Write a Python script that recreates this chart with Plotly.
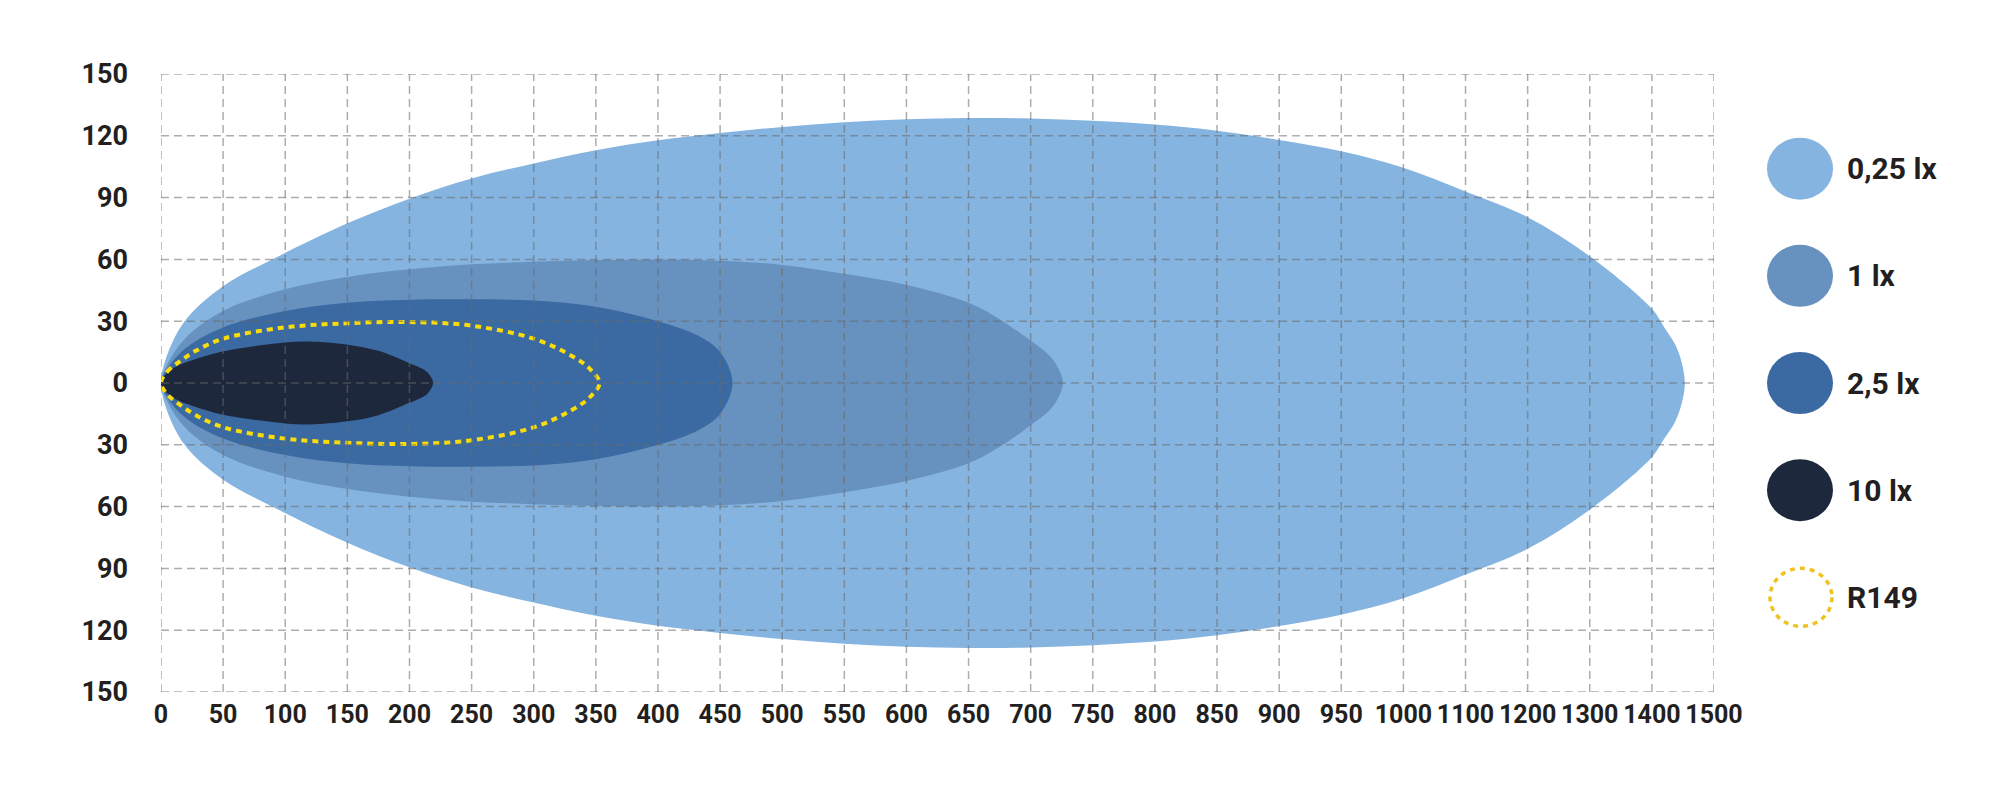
import plotly.graph_objects as go

# ---------------- data (metres) ----------------
x_ticks = [0, 50, 100, 150, 200, 250, 300, 350, 400, 450, 500, 550, 600, 650, 700,
           750, 800, 850, 900, 950, 1000, 1100, 1200, 1300, 1400, 1500]
y_ticks = [-150, -120, -90, -60, -30, 0, 30, 60, 90, 120, 150]

series_names = ["0,25 lx", "1 lx", "2,5 lx", "10 lx", "R149"]
series_colors = ["#85B4E0", "#6791BF", "#3B6AA3", "#1E283D", "#F9DC0A"]

# isolux contours: distance along beam and half-width (upper half, symmetric)
lux_025_x = [0, 4, 19, 50, 93, 150, 200, 250, 300, 350, 400, 450, 500, 550, 600, 650,
             700, 750, 800, 850, 900, 950, 1000, 1100, 1200, 1300, 1400, 1420, 1437, 1448, 1453]
lux_025_h = [0, 12, 30, 47, 61, 77.5, 89.5, 99.3, 106.6, 113, 117.8, 121.3, 124.3, 126.6, 128, 128.6,
             128.4, 127.3, 125.5, 122.5, 118, 112.5, 104.5, 93, 80.5, 61.5, 36, 27, 19, 10, 0]

lux_1_x = [0, 5, 20, 50, 100, 150, 200, 250, 300, 350, 400, 450, 500, 550, 600, 650, 675,
           700, 714, 721, 726]
lux_1_h = [0, 9, 22, 35, 45.5, 51.5, 55.2, 57.6, 58.8, 59.7, 60, 59.4, 57.3, 53, 47.6, 39, 31,
           20.5, 14, 8.5, 0]

lux_25_x = [0, 5, 20, 50, 100, 150, 200, 250, 300, 350, 400, 432, 450, 460]
lux_25_h = [0, 7, 17, 27, 35, 39, 40.4, 40.6, 40, 37, 30, 23, 15, 0]

lux_10_x = [0, 5, 14, 25, 50, 100, 120, 150, 175, 200, 210, 215, 219]
lux_10_h = [0, 5, 8.5, 11, 15.4, 19.6, 20.1, 18.6, 15.6, 9.6, 7, 4.8, 0]

r149_x = [0, 5, 14, 28, 50, 100, 150, 200, 250, 300, 331, 345, 353]
r149_h = [0, 5.5, 10, 15.6, 21.5, 27, 29, 29.6, 27.8, 21.5, 13, 7, 0]

# ---------------- helpers ----------------
def axis_pos(v):
    """Piecewise axis scale: 50 m per grid step up to 1000 m, 100 m per step beyond."""
    return v / 50.0 if v <= 1000 else 20 + (v - 1000) / 100.0


def closed_outline(xs, hs):
    up_x = [axis_pos(v) for v in xs]
    up_y = list(hs)
    lo_x = up_x[-2::-1]
    lo_y = [-h for h in hs[-2::-1]]
    return up_x + lo_x, up_y + lo_y


FONT = "Roboto"
TXT = "#231F20"

fig = go.Figure()

contours = [(lux_025_x, lux_025_h), (lux_1_x, lux_1_h), (lux_25_x, lux_25_h), (lux_10_x, lux_10_h)]
for (xs, hs), name, col in zip(contours, series_names[:4], series_colors[:4]):
    cx, cy = closed_outline(xs, hs)
    fig.add_trace(go.Scatter(x=cx, y=cy, mode="lines", fill="toself", fillcolor=col,
                             line=dict(color=col, width=0, shape="spline", smoothing=1.0),
                             name=name, showlegend=False, hoverinfo="name"))

rx, ry = closed_outline(r149_x, r149_h)
fig.add_trace(go.Scatter(x=rx, y=ry, mode="lines",
                         line=dict(color=series_colors[4], width=4, dash="6px,5px",
                                   shape="spline", smoothing=1.0),
                         name=series_names[4], showlegend=False, hoverinfo="name"))

# ---------------- grid (drawn above the filled areas) ----------------
grid_style = dict(color="rgba(105,105,105,0.55)", width=1.5, dash="8px,5px")
shapes = []
for t in x_ticks:
    p = axis_pos(t)
    shapes.append(dict(type="line", xref="x", yref="y", x0=p, x1=p,
                       y0=y_ticks[0], y1=y_ticks[-1], line=grid_style, layer="above"))
for t in y_ticks:
    shapes.append(dict(type="line", xref="x", yref="y", x0=axis_pos(x_ticks[0]),
                       x1=axis_pos(x_ticks[-1]), y0=t, y1=t, line=grid_style, layer="above"))

# ---------------- custom legend ----------------
legend_rows = [0.8468, 0.6734, 0.5, 0.3266, 0.1532]
annotations = []
for i, (name, col) in enumerate(zip(series_names, series_colors)):
    yc = legend_rows[i]
    if name == "R149":
        shapes.append(dict(type="circle", xref="paper", yref="paper", xsizemode="pixel",
                           ysizemode="pixel", xanchor=1, yanchor=yc,
                           x0=56, x1=118, y0=-29, y1=29, fillcolor="rgba(0,0,0,0)",
                           line=dict(color="#EFC21F", width=3.5, dash="5px,5px"), layer="above"))
    else:
        shapes.append(dict(type="circle", xref="paper", yref="paper", xsizemode="pixel",
                           ysizemode="pixel", xanchor=1, yanchor=yc,
                           x0=53, x1=119, y0=-31, y1=31, fillcolor=col,
                           line=dict(width=0), layer="above"))
    annotations.append(dict(text=name, xref="paper", yref="paper", x=1, y=yc,
                            xanchor="left", yanchor="middle", xshift=131, showarrow=False,
                            font=dict(family=FONT, size=30, color=TXT, weight=700)))

fig.update_layout(
    width=2000, height=797,
    margin=dict(l=153, r=294, t=66, b=113),
    paper_bgcolor="white", plot_bgcolor="white",
    shapes=shapes, annotations=annotations,
    showlegend=False,
    xaxis=dict(range=[axis_pos(x_ticks[0]), axis_pos(x_ticks[-1])],
               tickvals=[axis_pos(t) for t in x_ticks],
               ticktext=[str(t) for t in x_ticks],
               tickangle=0,
               showgrid=False, zeroline=False, showline=False, ticks="",
               ticklabelstandoff=5,
               tickfont=dict(family=FONT, size=25, color=TXT, weight=700)),
    yaxis=dict(range=[y_ticks[0], y_ticks[-1]],
               tickvals=y_ticks,
               ticktext=[str(abs(t)) for t in y_ticks],
               showgrid=False, zeroline=False, showline=False, ticks="",
               ticklabelstandoff=32,
               tickfont=dict(family=FONT, size=27, color=TXT, weight=700)),
)

fig.write_html("out.html")
